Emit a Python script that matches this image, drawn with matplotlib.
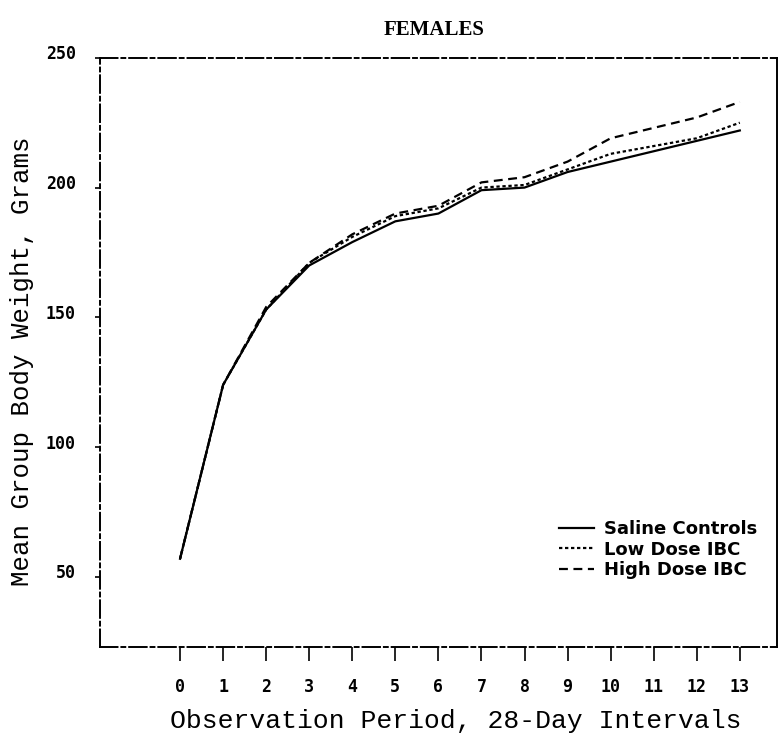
import matplotlib
matplotlib.use("Agg")
import matplotlib.pyplot as plt
from matplotlib.transforms import ScaledTranslation

# Observation periods (28-day intervals)
periods = list(range(14))

# Mean group body weight, grams
saline_controls = [57, 124, 153, 170, 179, 187, 190, 199, 200, 206, 210, 214, 218, 222]
low_dose_ibc = [57, 124, 153, 171, 181, 189, 192, 200, 201, 207, 213, 216, 219, 225]
high_dose_ibc = [57, 124, 154, 171, 182, 190, 193, 202, 204, 210, 219, 223, 227, 233]

y_ticks = [50, 100, 150, 200, 250]

fig = plt.figure(figsize=(7.78, 7.43), dpi=100)
ax = fig.add_axes([0.1285, 0.1292, 0.870, 0.793])

ax.plot(periods, saline_controls, color="black", linewidth=1.6, linestyle="-",
        label="Saline Controls")
ax.plot(periods, low_dose_ibc, color="black", linewidth=1.6, linestyle=(0, (1.5, 1.2)),
        label="Low Dose IBC")
ax.plot(periods, high_dose_ibc, color="black", linewidth=1.6, linestyle=(0, (4, 2.5)),
        label="High Dose IBC")

ax.set_xlim(-1.86, 13.86)
ax.set_ylim(23, 250)
ax.set_xticks(periods)
ax.set_yticks(y_ticks)

tick_font = {"family": "DejaVu Sans Mono", "weight": "bold", "size": 12}
ax.set_xticklabels([str(p) for p in periods], fontdict=tick_font)
ax.set_yticklabels([str(v) for v in y_ticks], fontdict=tick_font)
ax.tick_params(axis="x", direction="out", length=10, width=1.2, pad=12)
ax.tick_params(axis="y", direction="out", length=3.5, width=1.2, pad=14)

# y tick numbers sit a little above their ticks in the original
lift = ScaledTranslation(0, 4 / 72, fig.dpi_scale_trans)
for lbl in ax.get_yticklabels():
    lbl.set_transform(lbl.get_transform() + lift)

# Rough, printer-like frame
for side in ["top", "left", "bottom"]:
    ax.spines[side].set_linestyle((0, (9, 2, 2, 2)))
    ax.spines[side].set_linewidth(1.4)
ax.spines["right"].set_linewidth(1.4)

ax.set_xlabel("Observation Period, 28-Day Intervals",
              fontdict={"family": "Liberation Mono", "size": 19})
ax.xaxis.set_label_coords(0.526, -0.106)
ax.set_ylabel("Mean Group Body Weight, Grams",
              fontdict={"family": "Liberation Mono", "size": 18.5})
ax.yaxis.set_label_coords(-0.098, 0.485)

fig.text(0.558, 0.96, "FEMALES", ha="center", va="center",
         family="Liberation Serif", weight="bold", size=15)

leg = ax.legend(loc="upper left", bbox_to_anchor=(0.668, 0.228), frameon=False,
                handlelength=1.9, handletextpad=0.55, labelspacing=0.15,
                borderaxespad=0, prop={"family": "DejaVu Sans", "weight": "bold", "size": 13})

fig.savefig("out.png", dpi=100)
